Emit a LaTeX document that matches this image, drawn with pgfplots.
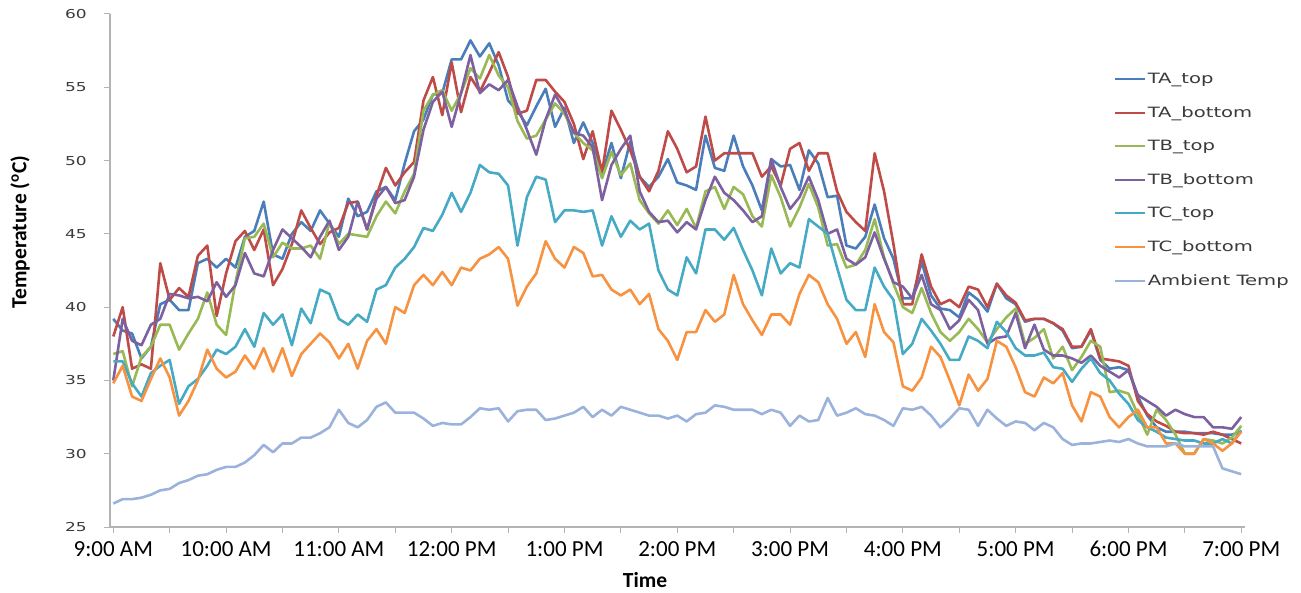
\documentclass[border=0pt]{standalone}
\usepackage{fontspec}
\setmainfont{Carlito}
\newfontfamily\widefont[FakeStretch=1.38]{DejaVu Sans}
\usepackage{pgfplots}
\usepackage{pgfplotstable}
\pgfplotsset{compat=1.18}
\definecolor{cA}{HTML}{4A7EBB}
\definecolor{cB}{HTML}{BE4B48}
\definecolor{cC}{HTML}{98B954}
\definecolor{cD}{HTML}{7D60A0}
\definecolor{cE}{HTML}{46AAC5}
\definecolor{cF}{HTML}{F69240}
\definecolor{cG}{HTML}{9BB2DC}
\definecolor{axgray}{HTML}{B3B3B3}
\definecolor{txtgray}{HTML}{3A3A3A}
\newcommand\ytfont{\widefont\fontsize{12.3bp}{14bp}\selectfont}
\newcommand\legfont{\widefont\fontsize{14.2bp}{17bp}\selectfont}
\newcommand\xtfont{\fontsize{23bp}{26bp}\selectfont}
\newcommand\labfont{\bfseries\fontsize{21.5bp}{24bp}\selectfont}
\pgfplotstableread{
i A B C D E F G
0 39.2 38.0 36.8 35.0 36.3 34.8 26.6
1 38.4 40.0 37.0 39.2 36.3 36.0 26.9
2 38.2 35.8 34.6 37.7 34.8 33.9 26.9
3 36.5 36.1 36.6 37.4 33.9 33.6 27.0
4 37.3 35.8 37.3 38.8 35.5 35.1 27.2
5 40.2 43.0 38.8 39.2 36.0 36.5 27.5
6 40.5 40.5 38.8 40.9 36.4 35.2 27.6
7 39.8 41.3 37.1 40.8 33.4 32.6 28.0
8 39.8 40.7 38.2 40.6 34.6 33.6 28.2
9 43.0 43.5 39.2 40.7 35.1 35.0 28.5
10 43.3 44.2 41.0 40.4 36.0 37.1 28.6
11 42.7 39.4 38.8 41.7 37.1 35.8 28.9
12 43.3 42.3 38.1 40.7 36.8 35.2 29.1
13 42.7 44.5 41.7 41.5 37.3 35.6 29.1
14 44.8 45.2 44.7 43.7 38.5 36.7 29.4
15 45.2 43.9 44.8 42.3 37.3 35.8 29.9
16 47.2 45.3 45.7 42.1 39.6 37.2 30.6
17 43.6 41.5 43.4 43.9 38.8 35.6 30.1
18 43.3 42.6 44.4 45.3 39.5 37.2 30.7
19 45.0 44.3 44.0 44.7 37.4 35.3 30.7
20 45.8 46.6 44.0 44.1 39.9 36.8 31.1
21 45.2 45.4 44.2 43.4 38.9 37.5 31.1
22 46.6 44.3 43.3 44.8 41.2 38.2 31.4
23 45.7 45.1 45.8 45.9 40.9 37.6 31.8
24 44.8 45.4 44.3 43.9 39.2 36.5 33.0
25 47.4 47.1 45.0 44.8 38.8 37.5 32.1
26 46.2 47.2 44.9 47.2 39.5 35.8 31.8
27 46.5 45.3 44.8 45.3 39.0 37.7 32.3
28 47.9 47.6 46.2 47.4 41.2 38.5 33.2
29 48.2 49.5 47.2 48.2 41.5 37.5 33.5
30 47.3 48.3 46.4 47.1 42.7 40.0 32.8
31 49.8 49.2 47.9 47.3 43.3 39.6 32.8
32 52.0 49.9 49.1 48.9 44.1 41.5 32.8
33 52.8 54.1 53.4 52.1 45.4 42.2 32.4
34 54.5 55.7 54.5 54.0 45.2 41.5 31.9
35 54.6 53.1 54.8 54.7 46.3 42.4 32.1
36 56.9 56.7 53.4 52.3 47.8 41.5 32.0
37 56.9 53.3 54.6 54.6 46.5 42.7 32.0
38 58.2 55.7 56.3 57.2 47.8 42.5 32.5
39 57.1 54.7 55.6 54.6 49.7 43.3 33.1
40 58.0 56.0 57.2 55.2 49.2 43.6 33.0
41 56.5 57.4 55.8 54.8 49.1 44.1 33.1
42 54.1 55.7 55.0 55.5 48.3 43.3 32.2
43 53.4 53.2 52.7 53.7 44.2 40.1 32.9
44 52.4 53.4 51.5 52.1 47.5 41.4 33.0
45 53.7 55.5 51.7 50.4 48.9 42.3 33.0
46 54.9 55.5 52.8 52.8 48.7 44.5 32.3
47 52.3 54.7 53.9 54.5 45.8 43.3 32.4
48 53.6 54.0 53.2 53.4 46.6 42.7 32.6
49 51.2 52.5 51.9 51.9 46.6 44.1 32.8
50 52.6 50.1 51.2 51.7 46.5 43.7 33.2
51 51.2 52.0 50.7 50.9 46.6 42.1 32.5
52 49.1 49.2 48.8 47.3 44.2 42.2 33.0
53 51.2 53.4 50.6 49.7 46.2 41.2 32.6
54 48.8 52.1 49.0 50.8 44.8 40.8 33.2
55 51.3 50.7 49.8 51.7 45.9 41.2 33.0
56 48.9 48.9 47.3 47.9 45.3 40.2 32.8
57 48.2 47.9 46.4 46.5 45.7 40.9 32.6
58 48.9 49.3 45.7 45.8 42.5 38.5 32.6
59 50.1 52.0 46.6 45.9 41.2 37.7 32.4
60 48.5 50.8 45.6 45.1 40.8 36.4 32.6
61 48.3 49.2 46.7 45.8 43.4 38.3 32.2
62 48.0 49.6 45.4 45.3 42.3 38.3 32.7
63 51.7 53.0 47.9 47.3 45.3 39.8 32.8
64 49.5 50.0 48.2 48.9 45.3 39.0 33.3
65 49.3 50.5 46.7 47.8 44.6 39.5 33.2
66 51.7 50.5 48.2 47.3 45.4 42.2 33.0
67 49.6 50.5 47.7 46.6 43.9 40.2 33.0
68 48.3 50.5 46.2 45.8 42.5 39.1 33.0
69 46.6 48.9 45.5 46.2 40.8 38.1 32.7
70 50.1 49.6 49.0 50.1 44.0 39.5 33.0
71 49.6 48.3 47.5 48.2 42.3 39.5 32.8
72 49.7 50.8 45.5 46.7 43.0 38.8 31.9
73 48.0 51.2 46.8 47.5 42.7 40.9 32.6
74 50.7 49.3 48.4 48.9 46.0 42.2 32.2
75 49.8 50.5 46.8 47.3 45.5 41.7 32.3
76 47.5 50.5 44.2 45.0 45.0 40.2 33.8
77 47.6 47.9 44.3 45.3 42.7 39.2 32.6
78 44.2 46.5 42.7 43.3 40.5 37.5 32.8
79 44.0 45.8 42.9 42.9 39.8 38.3 33.1
80 44.8 45.2 43.9 43.4 39.8 36.6 32.7
81 47.0 50.5 46.0 45.1 42.7 40.2 32.6
82 44.7 47.9 43.4 43.3 41.4 38.3 32.3
83 43.3 44.3 41.6 41.7 40.5 37.6 31.9
84 40.6 40.2 40.0 41.4 36.8 34.6 33.1
85 40.6 40.2 39.6 40.6 37.5 34.3 33.0
86 43.1 43.6 41.3 42.2 39.2 35.2 33.2
87 40.8 41.4 39.6 40.2 38.4 37.3 32.6
88 39.9 40.2 38.3 39.8 37.5 36.6 31.8
89 39.8 40.5 37.7 38.5 36.4 35.0 32.4
90 39.3 40.0 38.3 39.1 36.4 33.3 33.1
91 41.0 41.4 39.2 40.5 38.0 35.4 33.0
92 40.5 41.2 38.5 39.8 37.7 34.3 31.9
93 39.7 40.0 37.6 37.5 37.2 35.1 33.0
94 41.6 41.6 38.5 37.9 39.0 37.7 32.4
95 40.6 40.8 39.3 38.0 38.3 37.3 31.9
96 40.2 40.3 39.9 39.6 37.2 35.9 32.2
97 39.0 39.1 37.5 37.2 36.7 34.2 32.1
98 39.2 39.2 37.9 38.8 36.7 33.9 31.6
99 39.2 39.2 38.5 37.1 36.9 35.2 32.1
100 38.9 38.9 36.5 36.7 35.9 34.8 31.8
101 38.4 38.5 37.3 36.7 35.8 35.5 31.0
102 37.2 37.3 35.7 36.5 34.9 33.3 30.6
103 37.3 37.3 36.6 36.2 35.8 32.2 30.7
104 38.4 38.5 37.7 36.7 36.5 34.2 30.7
105 36.4 36.5 37.3 36.0 35.5 33.9 30.8
106 35.8 36.4 34.2 35.6 35.0 32.5 30.9
107 35.9 36.3 34.3 35.2 34.1 31.8 30.8
108 35.7 36.0 34.1 35.7 33.4 32.5 31.0
109 33.9 33.6 32.7 34.0 32.3 33.0 30.7
110 32.6 32.7 31.3 33.6 31.8 31.8 30.5
111 31.8 32.2 33.0 33.2 31.5 31.8 30.5
112 31.5 31.9 32.3 32.6 31.1 30.7 30.5
113 31.5 31.5 31.3 33.0 31.0 30.7 30.7
114 31.5 31.4 30.0 32.7 30.9 30.0 30.5
115 31.4 31.4 30.0 32.5 30.9 30.0 30.5
116 31.4 31.3 31.0 32.5 30.7 31.0 30.5
117 31.4 31.5 30.9 31.8 30.7 30.7 30.5
118 31.3 31.3 30.7 31.8 31.0 30.2 29.0
119 31.3 31.0 31.1 31.7 30.7 30.7 28.8
120 31.5 30.7 31.9 32.5 31.6 31.5 28.6
}\data
\begin{document}
\begin{tikzpicture}
\path[use as bounding box] (-110bp,-66bp) rectangle (1191bp,527bp);
\begin{axis}[
  at={(0,0)}, anchor=south west,
  scale only axis, width=1135bp, height=513bp,
  xmin=-0.35, xmax=120.4, ymin=25, ymax=60,
  axis x line*=bottom, axis y line*=left,
  axis line style={-, draw=axgray, line width=1.3bp},
  tick style={draw=axgray, line width=1bp},
  tick align=outside, major tick length=6bp,
  xtick={0,6,...,120},
  xticklabels={9:00 AM,,10:00 AM,,11:00 AM,,12:00 PM,,1:00 PM,,2:00 PM,,3:00 PM,,4:00 PM,,5:00 PM,,6:00 PM,,7:00 PM},
  xticklabel style={font=\xtfont, anchor=north, inner sep=0pt, yshift=-8bp},
  ytick={25,30,...,60},
  yticklabels={25,30,35,40,45,50,55,60},
  yticklabel style={font=\ytfont, text=txtgray, anchor=east, inner sep=0pt, xshift=-17bp},
  xlabel={Time}, ylabel={Temperature (\textsuperscript{o}C)},
  every axis x label/.style={at={(rel axis cs:0.4714,-0.1033)}, anchor=center, font=\labfont},
  every axis y label/.style={at={(rel axis cs:-0.0793,0.575)}, rotate=90, anchor=center, font=\labfont},
  legend style={at={(rel axis cs:0.882,0.892)}, anchor=north west, draw=none, fill=none,
    font=\legfont, text=txtgray, row sep=18.5bp, nodes={inner sep=1.5bp}},
  legend cell align=left,
  legend image code/.code={\draw[#1, line width=2bp] (0bp,0bp) -- (30bp,0bp);},
  every axis plot/.append style={line width=2.6bp, line join=round},
]
\addplot[cA] table[x=i,y=A]{\data};
\addplot[cB] table[x=i,y=B]{\data};
\addplot[cC] table[x=i,y=C]{\data};
\addplot[cD] table[x=i,y=D]{\data};
\addplot[cE] table[x=i,y=E]{\data};
\addplot[cF] table[x=i,y=F]{\data};
\addplot[cG] table[x=i,y=G]{\data};
\legend{TA\_top,TA\_bottom,TB\_top,TB\_bottom,TC\_top,TC\_bottom,Ambient Temp}
\end{axis}
\end{tikzpicture}
\end{document}
